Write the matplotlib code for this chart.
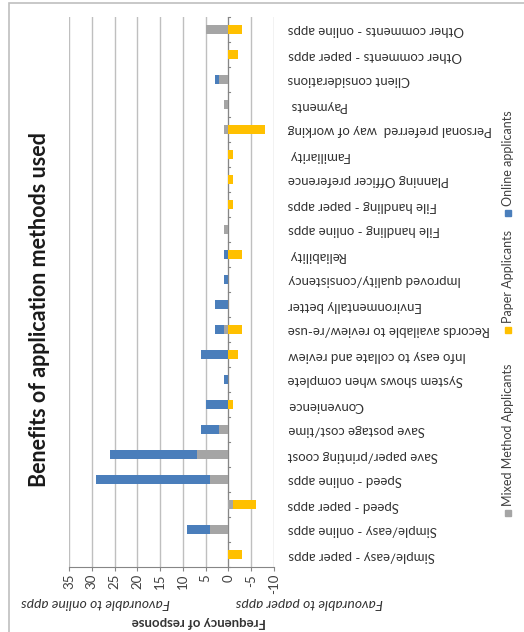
import matplotlib
matplotlib.use("Agg")
import matplotlib.pyplot as plt
import matplotlib.patches as mpatches
import numpy as np

plt.rcParams['font.family'] = ['Lato', 'DejaVu Sans']

# categories in the order of the original column chart (first = bottom here)
categories = [
    "Simple/easy - paper apps", "Simple/easy - online apps",
    "Speed - paper apps", "Speed - online apps",
    "Save paper/printing coost", "Save postage cost/time",
    "Convenience", "System shows when complete",
    "Info easy to collate and review", "Records available to review/re-use",
    "Environmentally better", "Improved quality/consistency",
    "Reliability", "File handling - online apps",
    "File handling - paper apps", "Planning Officer preference",
    "Familiarity", "Personal preferred  way of working",
    "Payments", "Client considerations",
    "Other comments - paper apps", "Other comments - online apps",
]
mixed = [0, 4, -1, 4, 7, 2, 0, 0, 0, 1, 0, 0, 0, 1, 0, 0, 0, 1, 1, 2, 0, 5]
paper = [-3, 0, -5, 0, 0, 0, -1, 0, -2, -3, 0, 0, -3, 0, -1, -1, -1, -8, 0, 0, -2, -3]
online = [0, 5, 0, 25, 19, 4, 5, 1, 6, 2, 3, 1, 1, 0, 0, 0, 0, 0, 0, 1, 0, 0]

series_names = ["Mixed Method Applicants", "Paper Applicants", "Online applicants"]
colors = ["#a5a5a5", "#ffc000", "#4a7ebb"]
value_ticks = [35, 30, 25, 20, 15, 10, 5, 0, -5, -10]

W, H = 524, 632
fig = plt.figure(figsize=(W / 100, H / 100), dpi=100)

def fx(px):
    return px / W

def fy(py):
    return 1 - py / H

ax = fig.add_axes([fx(69), fy(567), fx(274) - fx(69), fy(17) - fy(567)])

n = len(categories)
y = np.arange(n)
pos_base = np.zeros(n)
neg_base = np.zeros(n)
for vals, col in zip([mixed, paper, online], colors):
    vals = np.array(vals, dtype=float)
    left = np.where(vals >= 0, pos_base, neg_base)
    ax.barh(y, vals, left=left, height=0.37, color=col, zorder=3)
    pos_base += np.clip(vals, 0, None)
    neg_base += np.clip(vals, None, 0)

ax.set_xlim(35, -10)
ax.set_ylim(n - 0.5, -0.5)
ax.invert_yaxis()

ax.set_xticks(value_ticks)
ax.set_xticklabels([str(v) for v in value_ticks], rotation=90, fontsize=9.5,
                   color='#404040')
ax.tick_params(axis='x', length=3, color='#868686', pad=2)
ax.grid(axis='x', color='#bfbfbf', lw=1, zorder=0)

ax.set_yticks(y)
ax.set_yticklabels(categories, rotation=180, fontsize=9.5, color='#333333')
ax.yaxis.tick_right()
ax.tick_params(axis='y', length=0, pad=10)
for lab in ax.get_yticklabels():
    lab.set_ha('left')

for s in ['top', 'left', 'right']:
    ax.spines[s].set_visible(False)
ax.spines['bottom'].set_color('#868686')

# category axis on the zero line with boundary ticks
ax.axvline(0, color='#868686', lw=0.8, zorder=2)
for b in np.arange(n + 1) - 0.5:
    ax.plot([0, -0.35], [b, b], color='#868686', lw=0.8, zorder=2, clip_on=False)

# title and axis texts
fig.text(fx(40), fy(310), "Benefits of application methods used", rotation=90,
         fontsize=15.5, fontweight='bold', ha='center', va='center', color='#1a1a1a')
fig.text(fx(199), fy(622), "Frequency of response", rotation=180, fontsize=9.5,
         fontweight='bold', ha='center', va='center', color='#333333')
fig.text(fx(96), fy(603), "Favourable to online apps", rotation=180, fontsize=10,
         style='italic', ha='center', va='center', color='#333333')
fig.text(fx(309), fy(603), "Favourable to paper apps", rotation=180, fontsize=10,
         style='italic', ha='center', va='center', color='#333333')

# legend, rotated
leg_marker_y = [513, 330, 213]
for name, col, my in zip(series_names, colors, leg_marker_y):
    fig.patches.append(mpatches.Rectangle((fx(505), fy(my + 3)), 6 / W, 6 / H,
                                          transform=fig.transFigure, color=col))
    fig.text(fx(508), fy(my - 7), name, rotation=90, fontsize=9,
             ha='center', va='bottom', color='#404040')

# chart area border
fig.patches.append(mpatches.Rectangle((fx(9), -0.1), 1.0, fy(3) + 0.1,
                                      transform=fig.transFigure, fill=False,
                                      edgecolor='#bfbfbf', lw=1.2))

fig.savefig("out.png", dpi=100)
